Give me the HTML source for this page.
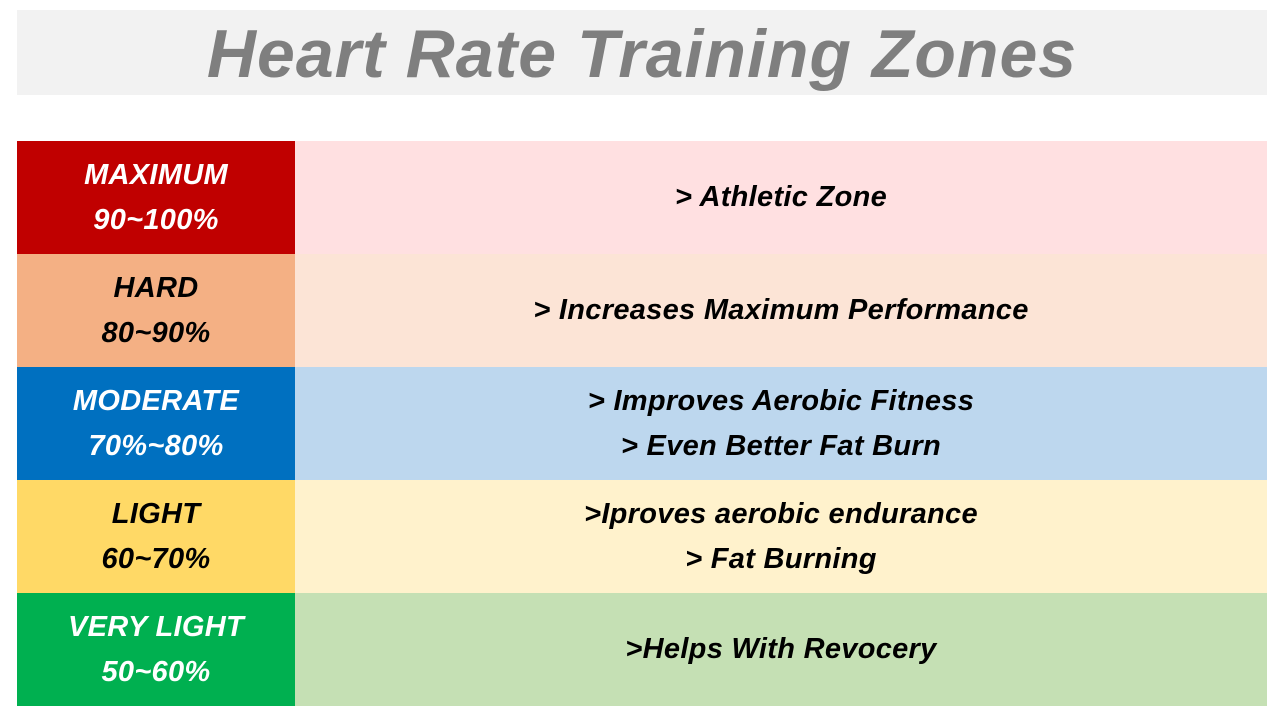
<!DOCTYPE html>
<html><head><meta charset="utf-8">
<style>
html,body{margin:0;padding:0;width:1284px;height:720px;background:#fff;overflow:hidden}
body{font-family:"Liberation Sans","Noto Sans CJK KR",sans-serif;position:relative}
#title{position:absolute;left:17px;top:10px;width:1250px;height:85px;background:#f2f2f2;text-align:center;
 font-style:italic;font-weight:bold;color:#7f7f7f;font-size:68px;line-height:88px;letter-spacing:1px}
.row{position:absolute;left:17px;width:1250px;height:113px;display:flex}
.lab{width:278px;display:flex;flex-direction:column;justify-content:center;align-items:center;
 font-style:italic;font-weight:bold;font-size:29px;line-height:45px;letter-spacing:0.3px}
.desc{flex:1;display:flex;flex-direction:column;justify-content:center;align-items:center;
 font-style:italic;font-weight:bold;font-size:29px;line-height:45px;color:#000;letter-spacing:0.3px}
</style></head><body>
<div id="title">Heart Rate Training Zones</div>

<div class="row" style="top:141px">
 <div class="lab" style="background:#c00000;color:#fff"><span>MAXIMUM</span><span>90~100%</span></div>
 <div class="desc" style="background:#ffe0e1"><span>&gt; Athletic Zone</span></div>
</div>
<div class="row" style="top:254px">
 <div class="lab" style="background:#f4b084;color:#000"><span>HARD</span><span>80~90%</span></div>
 <div class="desc" style="background:#fce4d6"><span>&gt; Increases Maximum Performance</span></div>
</div>
<div class="row" style="top:367px">
 <div class="lab" style="background:#0070c0;color:#fff"><span>MODERATE</span><span>70%~80%</span></div>
 <div class="desc" style="background:#bdd7ee"><span>&gt; Improves Aerobic Fitness</span><span>&gt; Even Better Fat Burn</span></div>
</div>
<div class="row" style="top:480px">
 <div class="lab" style="background:#ffd966;color:#000"><span>LIGHT</span><span>60~70%</span></div>
 <div class="desc" style="background:#fff2cc"><span>&gt;Iproves aerobic endurance</span><span>&gt; Fat Burning</span></div>
</div>
<div class="row" style="top:593px">
 <div class="lab" style="background:#00b050;color:#fff"><span>VERY LIGHT</span><span>50~60%</span></div>
 <div class="desc" style="background:#c5e0b4"><span>&gt;Helps With Revocery</span></div>
</div>
</body></html>
